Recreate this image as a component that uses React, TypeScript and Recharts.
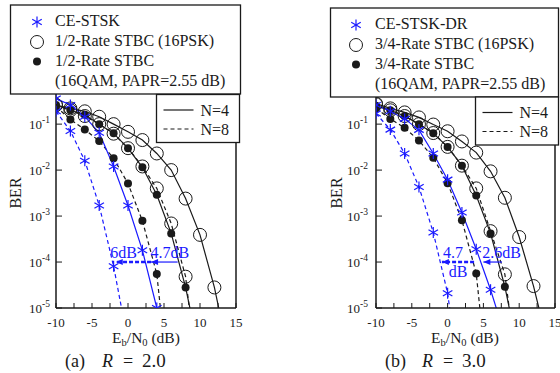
import React from "react";
import { LineChart, Line, XAxis, YAxis, ReferenceLine, ReferenceDot } from "recharts";

const BLUE = "#1a1aff";
const INK = "#1a1a1a";
const SERIF = '"Liberation Serif", "DejaVu Serif", serif';

const EBN0 = [-10, -8, -6, -4, -2, 0, 2, 4, 6, 8, 10, 12, 14];
const X_TICKS = [-10, -7.5, -5, -2.5, 0, 2.5, 5, 7.5, 10, 12.5, 15];
const BER_TICKS = [1e-5, 1e-4, 1e-3, 1e-2, 1e-1];
const BER_DOMAIN = [1e-5, 0.5];

// (a) R = 2.0, BER every 2 dB from -10 dB.
// the last value of a curve is where it runs off the bottom of the frame
const stskN4A = [0.36, 0.26, 0.145, 0.065, 0.012, 1.7e-3, 1.8e-4, 1e-5];
const stskN8A = [0.19, 0.071, 0.016, 1.7e-3, 8.1e-5, 1.8e-6];
const pskN4A = [0.26, 0.22, 0.19, 0.145, 0.1, 0.068, 0.045, 0.023, 0.01, 2.4e-3, 3.9e-4, 2.8e-5, 9e-7];
const pskN8A = [0.26, 0.2, 0.15, 0.1, 0.062, 0.03, 0.012, 4e-3, 6.9e-4, 4.8e-5, 1e-7];
const qamN4A = [0.26, 0.2, 0.16, 0.1, 0.063, 0.03, 0.0115, 2.9e-3, 4.2e-4, 2.8e-5, 9e-7];
const qamN8A = [0.24, 0.126, 0.076, 0.043, 0.018, 5.1e-3, 7.9e-4, 5.5e-5, 6e-8];

// (b) R = 3.0
const stskN4B = [0.26, 0.19, 0.13, 0.075, 0.023, 6.2e-3, 1.2e-3, 1.9e-4, 2.5e-5, 2.5e-6];
const stskN8B = [0.17, 0.076, 0.023, 4.3e-3, 4.4e-4, 2.1e-5, 1.2e-7];
const pskN4B = [0.28, 0.22, 0.18, 0.14, 0.098, 0.07, 0.042, 0.024, 9.4e-3, 2.5e-3, 3.5e-4, 3e-5, 1.6e-6];
const pskN8B = [0.27, 0.2, 0.15, 0.1, 0.064, 0.032, 0.0125, 4e-3, 4.7e-4, 5.4e-5, 2e-7];
const qamN4B = [0.25, 0.2, 0.15, 0.1, 0.063, 0.032, 0.0125, 2.8e-3, 4.2e-4, 2.9e-5, 9e-7];
const qamN8B = [0.22, 0.13, 0.083, 0.044, 0.0185, 5.2e-3, 8.1e-4, 5.6e-5, 6e-8];

// SNR gap arrows drawn at BER = 1e-4: [start, head] in dB
const GAP_BER = 1e-4;
const dashedGapA = [3.2, -1.7];
const solidGapA = [6.9, 3.2];
const dashedGapB = [3.7, -0.8];
const solidGapB = [7.6, 5.0];
const notesA = [
  { x: -0.6, y: 1.6e-4, text: "6dB" },
  { x: 5.8, y: 1.6e-4, text: "4.7dB" },
];
const notesB = [
  { x: 0.75, y: 1.6e-4, text: "4.7" },
  { x: 1.45, y: 6.2e-5, text: "dB" },
  { x: 7.55, y: 1.6e-4, text: "2.6dB" },
];

type Mark = "star" | "ring" | "dot";

const SERIES: { key: string; color: string; dashed: boolean; mark: Mark }[] = [
  { key: "pskN4", color: INK, dashed: false, mark: "ring" },
  { key: "pskN8", color: INK, dashed: true, mark: "ring" },
  { key: "qamN4", color: INK, dashed: false, mark: "dot" },
  { key: "qamN8", color: INK, dashed: true, mark: "dot" },
  { key: "stskN4", color: BLUE, dashed: false, mark: "star" },
  { key: "stskN8", color: BLUE, dashed: true, mark: "star" },
];

function buildRows(cols: Record<string, number[]>) {
  return EBN0.map((x, i) => {
    const row: Record<string, number | null> = { x };
    Object.keys(cols).forEach((k) => {
      row[k] = cols[k][i] ?? null;
    });
    return row;
  });
}

const rowsA = buildRows({
  stskN4: stskN4A, stskN8: stskN8A, pskN4: pskN4A,
  pskN8: pskN8A, qamN4: qamN4A, qamN8: qamN8A,
});
const rowsB = buildRows({
  stskN4: stskN4B, stskN8: stskN8B, pskN4: pskN4B,
  pskN8: pskN8B, qamN4: qamN4B, qamN8: qamN8B,
});

function marker(mark: Mark, color: string, cx: number, cy: number, key?: string | number) {
  if (mark === "star") {
    const r = 5.5;
    const dx = r * Math.cos(Math.PI / 6);
    const dy = r * 0.5;
    return (
      <g key={key} stroke={color} strokeWidth={1.2}>
        <line x1={cx} y1={cy - r} x2={cx} y2={cy + r} />
        <line x1={cx - dx} y1={cy - dy} x2={cx + dx} y2={cy + dy} />
        <line x1={cx - dx} y1={cy + dy} x2={cx + dx} y2={cy - dy} />
      </g>
    );
  }
  if (mark === "ring") {
    return <circle key={key} cx={cx} cy={cy} r={6.5} fill="none" stroke={color} strokeWidth={1} />;
  }
  return <circle key={key} cx={cx} cy={cy} r={4} fill={color} stroke="none" />;
}

function XTick({ x, y, payload }: any) {
  if (payload.value % 5 !== 0) return <g />;
  return (
    <text x={x} y={y + 19} textAnchor="middle" fontFamily={SERIF} fontSize={13} fill={INK}>
      {String(payload.value)}
    </text>
  );
}

function BerTick({ x, y, payload }: any) {
  const exp = Math.round(Math.log10(payload.value));
  return (
    <text x={x} y={y + 5} textAnchor="end" fontFamily={SERIF} fontSize={13} fill={INK}>
      10
      <tspan dy={-6} fontSize={9.5}>{String(exp)}</tspan>
    </text>
  );
}

function Panel({ rows, dashedGap, solidGap, notes, axisWidth, rightMargin, labelGap }: any) {
  return (
    <LineChart
      width={280}
      height={373}
      data={rows}
      margin={{ top: 92, right: rightMargin, bottom: 0, left: 0 }}
    >
      <XAxis
        dataKey="x"
        type="number"
        domain={[-10, 15]}
        ticks={X_TICKS}
        interval={0}
        allowDataOverflow
        height={65}
        tickSize={-5}
        tickMargin={5}
        axisLine={{ stroke: INK, strokeWidth: 1.5 }}
        tickLine={{ stroke: INK }}
        tick={(p: any) => <XTick {...p} />}
      />
      <YAxis
        scale="log"
        domain={BER_DOMAIN}
        allowDataOverflow
        ticks={BER_TICKS}
        interval={0}
        width={axisWidth}
        tickSize={-6}
        tickMargin={labelGap}
        axisLine={{ stroke: INK, strokeWidth: 1.5 }}
        tickLine={{ stroke: INK }}
        tick={(p: any) => <BerTick {...p} />}
      />
      <YAxis
        yAxisId="frame"
        orientation="right"
        scale="log"
        domain={BER_DOMAIN}
        allowDataOverflow
        ticks={BER_TICKS}
        interval={0}
        width={1}
        tickSize={-6}
        axisLine={{ stroke: INK, strokeWidth: 1.5 }}
        tickLine={{ stroke: INK }}
        tick={false}
      />
      {SERIES.map((s) => (
        <Line
          key={s.key}
          dataKey={s.key}
          type="linear"
          stroke={s.color}
          strokeWidth={1.2}
          strokeDasharray={s.dashed ? "4 3" : undefined}
          isAnimationActive={false}
          dot={(p: any) =>
            p.value != null && p.value >= 9e-6
              ? marker(s.mark, s.color, p.cx, p.cy, p.index)
              : <g key={p.index} />
          }
          activeDot={false}
        />
      ))}
      <ReferenceLine
        segment={[{ x: dashedGap[0], y: GAP_BER }, { x: dashedGap[1], y: GAP_BER }]}
        stroke={BLUE}
        strokeWidth={2.5}
        strokeDasharray="4 2"
      />
      <ReferenceLine
        segment={[{ x: solidGap[0], y: GAP_BER }, { x: solidGap[1], y: GAP_BER }]}
        stroke={BLUE}
        strokeWidth={1.2}
      />
      {[dashedGap[1], solidGap[1]].map((hx: number) => (
        <ReferenceDot
          key={"head" + hx}
          x={hx}
          y={GAP_BER}
          r={0}
          shape={(p: any) => (
            <polygon
              points={`${p.cx},${p.cy} ${p.cx + 7},${p.cy - 3} ${p.cx + 7},${p.cy + 3}`}
              fill={BLUE}
            />
          )}
        />
      ))}
      {notes.map((n: any) => (
        <ReferenceDot
          key={n.text}
          x={n.x}
          y={n.y}
          r={0}
          shape={(p: any) => (
            <text x={p.cx} y={p.cy + 5} textAnchor="middle" fontFamily={SERIF} fontSize={16} fill={BLUE}>
              {n.text}
            </text>
          )}
        />
      ))}
    </LineChart>
  );
}

function SchemeLegend({ x, y, w, h, mx, tx, rows }: any) {
  const labels = rows as string[];
  return (
    <g>
      <rect x={x} y={y} width={w} height={h} fill="#fff" stroke={INK} strokeWidth={1.3} />
      {marker("star", BLUE, mx, y + 17)}
      {marker("ring", INK, mx, y + 37)}
      {marker("dot", INK, mx, y + 56.5)}
      {labels.map((t, i) => (
        <text key={i} x={tx} y={y + 21 + i * 20} fontFamily={SERIF} fontSize={16} fill={INK}>
          {t}
        </text>
      ))}
    </g>
  );
}

function NLegend({ x, y }: any) {
  return (
    <g>
      <rect x={x} y={y} width={83} height={48} fill="#fff" stroke={INK} strokeWidth={1.3} />
      <line x1={x + 7} x2={x + 37} y1={y + 15.5} y2={y + 15.5} stroke={INK} strokeWidth={1.2} />
      <line x1={x + 7} x2={x + 37} y1={y + 34.5} y2={y + 34.5} stroke={INK} strokeWidth={1.2} strokeDasharray="4 3" />
      <text x={x + 44} y={y + 21} fontFamily={SERIF} fontSize={16} fill={INK}>N=4</text>
      <text x={x + 44} y={y + 40} fontFamily={SERIF} fontSize={16} fill={INK}>N=8</text>
    </g>
  );
}

function AxisTitles({ cx, berX, tag, rate, tagX }: any) {
  return (
    <g fontFamily={SERIF} fill={INK}>
      <text
        x={berX}
        y={193}
        fontSize={16}
        textAnchor="middle"
        dominantBaseline="central"
        transform={`rotate(-90 ${berX} 193)`}
      >
        BER
      </text>
      <text x={cx} y={343} fontSize={15.5} textAnchor="middle">
        E<tspan fontSize={10.5} dy={3}>b</tspan>
        <tspan dy={-3}>/N</tspan>
        <tspan fontSize={10.5} dy={3}>0</tspan>
        <tspan dy={-3}> (dB)</tspan>
      </text>
      <text x={tagX} y={367} fontSize={18}>{tag}</text>
      <text x={tagX + 37} y={367} fontSize={18} fontStyle="italic">R</text>
      <text x={tagX + 58} y={367} fontSize={18}>=</text>
      <text x={tagX + 77} y={367} fontSize={19}>{rate}</text>
    </g>
  );
}

export default function App() {
  return (
    <div style={{ position: "absolute", left: 0, top: 0, width: 560, height: 373, background: "#fff" }}>
      <div style={{ position: "absolute", left: 0, top: 0 }}>
        <Panel
          rows={rowsA}
          dashedGap={dashedGapA}
          solidGap={solidGapA}
          notes={notesA}
          axisWidth={56}
          rightMargin={43}
          labelGap={12}
        />
      </div>
      <div style={{ position: "absolute", left: 280, top: 0 }}>
        <Panel
          rows={rowsB}
          dashedGap={dashedGapB}
          solidGap={solidGapB}
          notes={notesB}
          axisWidth={96}
          rightMargin={4}
          labelGap={14}
        />
      </div>
      <svg
        width={560}
        height={373}
        style={{ position: "absolute", left: 0, top: 0, pointerEvents: "none" }}
      >
        <SchemeLegend
          x={10.5}
          y={5}
          w={230}
          h={89}
          mx={37}
          tx={55}
          rows={["CE-STSK", "1/2-Rate STBC (16PSK)", "1/2-Rate STBC", "(16QAM, PAPR=2.55 dB)"]}
        />
        <NLegend x={156.5} y={94.5} />
        <SchemeLegend
          x={330.5}
          y={8}
          w={228}
          h={89}
          mx={356}
          tx={375}
          rows={["CE-STSK-DR", "3/4-Rate STBC (16PSK)", "3/4-Rate STBC", "(16QAM, PAPR=2.55 dB)"]}
        />
        <NLegend x={475.5} y={97} />
        <AxisTitles cx={146} berX={15} tag="(a)" rate="2.0" tagX={65} />
        <AxisTitles cx={465} berX={336} tag="(b)" rate="3.0" tagX={385} />
      </svg>
    </div>
  );
}
